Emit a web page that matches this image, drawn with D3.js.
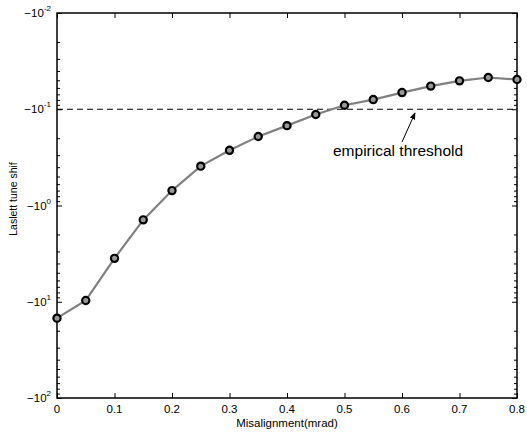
<!DOCTYPE html>
<html>
<head>
<meta charset="utf-8">
<script src="https://cdn.jsdelivr.net/npm/d3@7"></script>
<style>
body { margin: 0; background: #fff; }
text { font-family: "Liberation Sans", Arial, sans-serif; }
</style>
</head>
<body>
<script>
// Data
var misalignment = [0, 0.05, 0.1, 0.15, 0.2, 0.25, 0.3, 0.35, 0.4, 0.45, 0.5, 0.55, 0.6, 0.65, 0.7, 0.75, 0.8];
var tuneShift = [-14.8, -9.7, -3.54, -1.41, -0.70, -0.39, -0.267, -0.192, -0.148, -0.1135, -0.0908, -0.0793, -0.0671, -0.0575, -0.0507, -0.0468, -0.0491];
var threshold = -0.1;
var xTicks = [0, 0.1, 0.2, 0.3, 0.4, 0.5, 0.6, 0.7, 0.8];
var yExponents = [-2, -1, 0, 1, 2];

// Graph dimensions
var margin = {top: 13, right: 10, bottom: 34, left: 57},
    width = 527 - margin.left - margin.right,
    height = 432 - margin.top - margin.bottom;

// Scales
var x = d3.scaleLinear().domain([0, 0.8]).range([0, width]);
var y = d3.scaleLog().domain([-100, -0.01]).range([height, 0]);

var svg = d3.select('body').append('svg')
    .attr('width', 527)
    .attr('height', 432);

var chart = svg.append('g')
    .attr('transform', 'translate(' + margin.left + ',' + margin.top + ')');

// Minor ticks for the log axis
var minor = [];
yExponents.slice(0, -1).forEach(function(e) {
    for (var k = 2; k <= 9; k++) minor.push(-k * Math.pow(10, e));
});
var major = yExponents.map(function(e) { return -Math.pow(10, e); });

function styleAxis(g) {
    g.select('.domain').remove();
    g.selectAll('line').attr('stroke', '#000').attr('stroke-width', 1);
}

// Y axes (left + right), ticks pointing inward
chart.append('g').call(d3.axisLeft(y).tickValues(major).tickSize(-5).tickFormat('')).call(styleAxis);
chart.append('g').call(d3.axisLeft(y).tickValues(minor).tickSize(-3).tickFormat('')).call(styleAxis);
chart.append('g').attr('transform', 'translate(' + width + ',0)')
    .call(d3.axisRight(y).tickValues(major).tickSize(-5).tickFormat('')).call(styleAxis);
chart.append('g').attr('transform', 'translate(' + width + ',0)')
    .call(d3.axisRight(y).tickValues(minor).tickSize(-3).tickFormat('')).call(styleAxis);

// X axes (bottom + top)
chart.append('g').attr('transform', 'translate(0,' + height + ')')
    .call(d3.axisBottom(x).tickValues(xTicks).tickSize(-5).tickFormat('')).call(styleAxis);
chart.append('g')
    .call(d3.axisTop(x).tickValues(xTicks).tickSize(-5).tickFormat('')).call(styleAxis);

// Box
chart.append('rect')
    .attr('width', width).attr('height', height)
    .attr('fill', 'none').attr('stroke', '#000').attr('stroke-width', 1.5);

// Y tick labels with superscript exponents
var yl = chart.selectAll('.ylab').data(yExponents).enter().append('text')
    .attr('class', 'ylab')
    .attr('text-anchor', 'end')
    .attr('font-size', 11.5)
    .attr('x', -6)
    .attr('y', function(e) { return y(-Math.pow(10, e)) + 4; });
yl.append('tspan').text('\u221210');
yl.append('tspan').attr('dy', -6).attr('font-size', 8).text(function(e) { return e; });

// X tick labels
chart.selectAll('.xlab').data(xTicks).enter().append('text')
    .attr('class', 'xlab')
    .attr('text-anchor', 'middle')
    .attr('font-size', 11.5)
    .attr('x', function(d) { return x(d); })
    .attr('y', height + 15)
    .text(function(d) { return d === 0 ? '0' : d3.format('.1f')(d); });

// Axis labels
svg.append('text')
    .attr('text-anchor', 'middle').attr('font-size', 11.5)
    .attr('x', margin.left + width / 2).attr('y', 427)
    .text('Misalignment(mrad)');
svg.append('text')
    .attr('text-anchor', 'middle').attr('font-size', 10.5)
    .attr('transform', 'translate(17,' + (margin.top + 186) + ') rotate(-90)')
    .text('Laslett tune shif');

// Threshold line
chart.append('line')
    .attr('x1', 0).attr('x2', width)
    .attr('y1', y(threshold)).attr('y2', y(threshold))
    .attr('stroke', '#000').attr('stroke-width', 1)
    .attr('stroke-dasharray', '6,4');

// Data line
var line = d3.line()
    .x(function(d, i) { return x(misalignment[i]); })
    .y(function(d) { return y(d); });

chart.append('path')
    .datum(tuneShift)
    .attr('fill', 'none')
    .attr('stroke', '#808080')
    .attr('stroke-width', 2.2)
    .attr('d', line);

chart.selectAll('.pt').data(tuneShift).enter().append('circle')
    .attr('class', 'pt')
    .attr('cx', function(d, i) { return x(misalignment[i]); })
    .attr('cy', function(d) { return y(d); })
    .attr('r', 3.6)
    .attr('fill', '#999')
    .attr('stroke', '#000')
    .attr('stroke-width', 2.2);

// Annotation
svg.append('defs').append('marker')
    .attr('id', 'head')
    .attr('viewBox', '0 0 10 10')
    .attr('refX', 9).attr('refY', 5)
    .attr('markerWidth', 7).attr('markerHeight', 7)
    .attr('orient', 'auto')
    .append('path').attr('d', 'M0,1 L10,5 L0,9 Z').attr('fill', '#000');

chart.append('line')
    .attr('x1', x(0.6)).attr('y1', 129)
    .attr('x2', x(0.6) + 13).attr('y2', 100)
    .attr('stroke', '#000').attr('stroke-width', 1)
    .attr('marker-end', 'url(#head)');

chart.append('text')
    .attr('font-size', 15.5)
    .attr('x', x(0.6) - 69).attr('y', 143)
    .text('empirical threshold');
</script>
</body>
</html>
